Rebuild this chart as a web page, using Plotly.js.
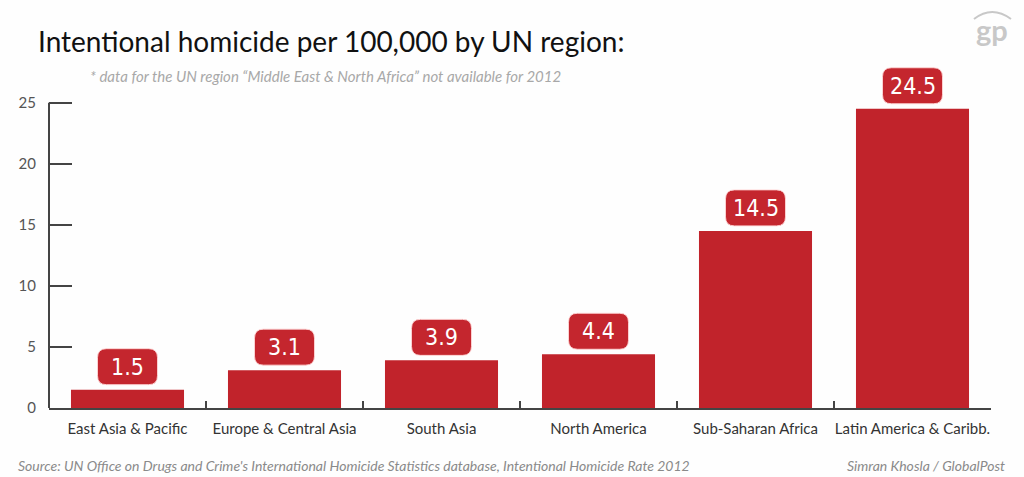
<!DOCTYPE html>
<html>
<head>
<meta charset="utf-8">
<script src="https://cdn.plot.ly/plotly-3.0.1.min.js"></script>
<style>html,body{margin:0;padding:0;background:#fefefe;}#chart{width:1024px;height:477px;}</style>
</head>
<body>
<div id="chart"></div>
<script>
const regions = ["East Asia & Pacific", "Europe & Central Asia", "South Asia", "North America", "Sub-Saharan Africa", "Latin America & Caribb."];
const rates = [1.5, 3.1, 3.9, 4.4, 14.5, 24.5];
const yTicks = [0, 5, 10, 15, 20, 25];

const titleText = "Intentional homicide per 100,000 by UN region:";
const noteText = "* data for the UN region \u201cMiddle East & North Africa\u201d not available for 2012";
const sourceText = "Source: UN Office on Drugs and Crime's International Homicide Statistics database, Intentional Homicide Rate 2012";
const creditText = "Simran Khosla / GlobalPost";

const W = 1024, H = 477;
const M = {l: 49, r: 33, t: 66, b: 69};
const plotW = W - M.l - M.r, plotH = H - M.t - M.b;
const xp = px => (px - M.l) / plotW;
const yp = py => (H - M.b - py) / plotH;

const barColor = "#c1232b";
const boxW = 60, boxH = 36, gap = 5, rad = 9;
function boxPath() {
  const a = -boxW/2, b = boxW/2, y0 = gap, y1 = gap + boxH, r = rad;
  return `M${a+r},${y0} L${b-r},${y0} Q${b},${y0} ${b},${y0+r} L${b},${y1-r} Q${b},${y1} ${b-r},${y1} L${a+r},${y1} Q${a},${y1} ${a},${y1-r} L${a},${y0+r} Q${a},${y0} ${a+r},${y0} Z`;
}

const shapes = [];
const annotations = [];
rates.forEach((v, i) => {
  shapes.push({
    type: "path", xref: "x", yref: "y", xsizemode: "pixel", ysizemode: "pixel",
    xanchor: i, yanchor: v, path: boxPath(),
    fillcolor: "#c4262e", line: {color: "rgba(255,215,215,0.9)", width: 1}
  });
  annotations.push({
    x: i, y: v, xref: "x", yref: "y", text: v.toFixed(1), showarrow: false,
    yanchor: "middle", yshift: gap + boxH/2,
    font: {family: "DejaVu Sans Condensed, sans-serif", size: 23, color: "#ffffff"}
  });
});

// y axis line from 0 to 25 only
shapes.push({type: "line", xref: "paper", yref: "y", x0: 0, x1: 0, y0: 0, y1: yTicks[yTicks.length-1], line: {color: "#444", width: 2}, layer: "above"});

// logo arc
shapes.push({type: "path", xref: "paper", yref: "paper",
  path: `M${xp(974)},${yp(19)} Q${xp(992)},${yp(5)} ${xp(1011)},${yp(19)}`,
  line: {color: "#c8c8c8", width: 2}});

annotations.push({xref: "paper", yref: "paper", x: xp(88), y: yp(76), xanchor: "left", yanchor: "middle",
  text: noteText, showarrow: false, font: {family: "Lato, sans-serif", size: 15, color: "#a8a8a8", style: "italic"}});
annotations.push({xref: "paper", yref: "paper", x: xp(16), y: yp(465), xanchor: "left", yanchor: "middle",
  text: sourceText, showarrow: false, font: {family: "Lato, sans-serif", size: 14, color: "#8a8a8a", style: "italic"}});
annotations.push({xref: "paper", yref: "paper", x: xp(1007), y: yp(465), xanchor: "right", yanchor: "middle",
  text: creditText, showarrow: false, font: {family: "Lato, sans-serif", size: 14, color: "#8a8a8a", style: "italic"}});
annotations.push({xref: "paper", yref: "paper", x: xp(992), y: yp(29), xanchor: "center", yanchor: "middle",
  text: "gp", showarrow: false, font: {family: "Lato, sans-serif", size: 29, color: "#c8c8c8", weight: 700}});

const data = [{
  type: "bar", x: regions, y: rates, width: 0.72,
  marker: {color: barColor}, hoverinfo: "x+y"
}];

const layout = {
  width: W, height: H,
  margin: M,
  paper_bgcolor: "#fefefe", plot_bgcolor: "#fefefe",
  showlegend: false,
  title: {text: titleText, x: 38/W, xanchor: "left", xref: "container", y: 1 - 42/H, yanchor: "middle", yref: "container",
    font: {family: "Lato, sans-serif", size: 28, color: "#111"}},
  xaxis: {
    type: "category", range: [-0.5, regions.length - 0.5],
    showline: true, linecolor: "#444", linewidth: 2,
    ticks: "inside", tickson: "boundaries", ticklen: 7, tickwidth: 1.5, tickcolor: "#444",
    showgrid: false, zeroline: false, tickangle: 0,
    tickfont: {family: "Lato, sans-serif", size: 15, color: "#333"},
    ticklabelstandoff: 6
  },
  yaxis: {
    range: [0, 28], tickvals: yTicks, ticktext: yTicks.map(String),
    showline: false, ticks: "inside", ticklen: 23, tickwidth: 2, tickcolor: "#444",
    showgrid: false, zeroline: false,
    tickfont: {family: "Lato, sans-serif", size: 15, color: "#555"},
    ticklabelstandoff: 12
  },
  shapes: shapes,
  annotations: annotations
};

Plotly.newPlot("chart", data, layout, {displayModeBar: false, staticPlot: true});
</script>
</body>
</html>
